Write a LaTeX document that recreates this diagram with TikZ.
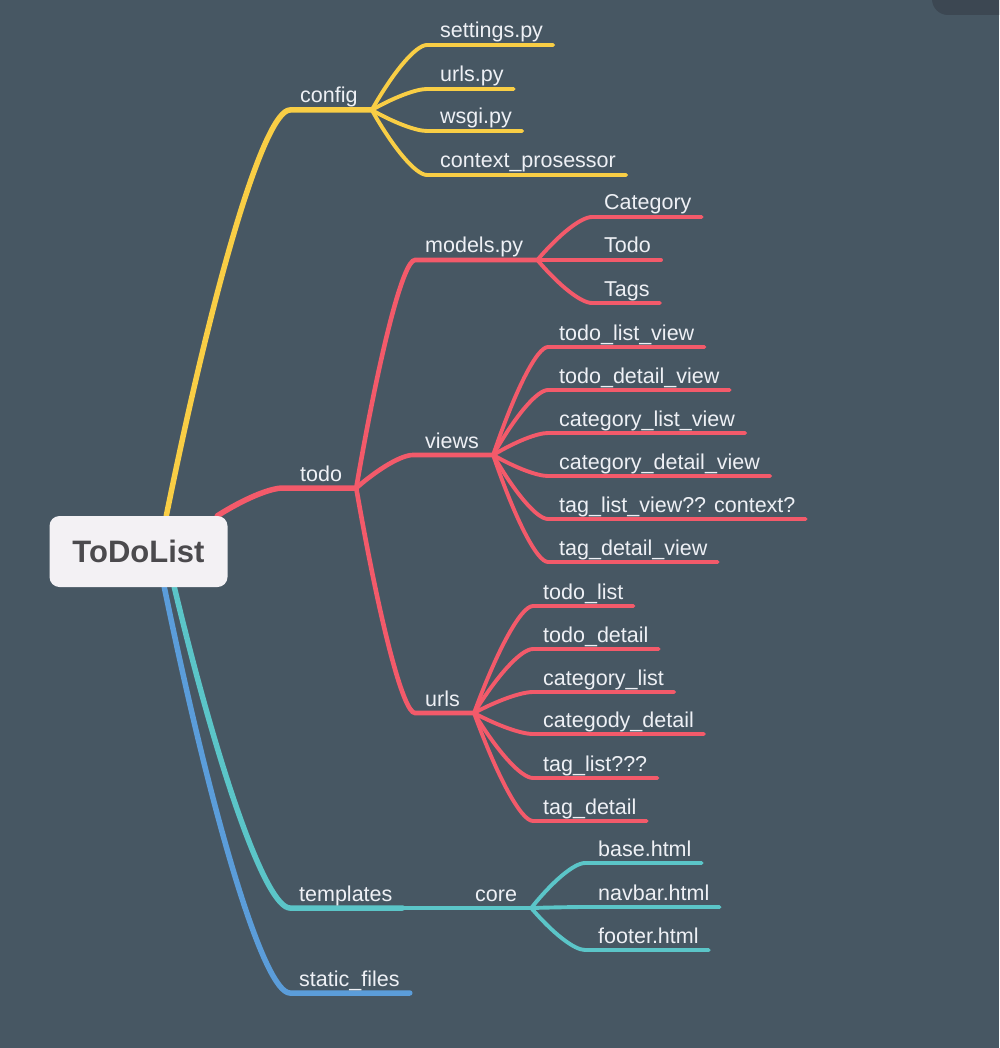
\documentclass[tikz,border=0pt]{standalone}
\usepackage{fontspec}
\setmainfont{Liberation Sans}
\usetikzlibrary{calc}
\definecolor{bgc}{HTML}{475763}
\definecolor{uidark}{HTML}{3C4752}
\definecolor{cyel}{HTML}{F9CE45}
\definecolor{cred}{HTML}{F35A6A}
\definecolor{cteal}{HTML}{5BC5C8}
\definecolor{cblue}{HTML}{5B9DDA}
\definecolor{ltxt}{HTML}{EEF0F5}
\definecolor{rootfill}{HTML}{F3F1F4}
\definecolor{roottxt}{HTML}{4B4A4D}
\pgfdeclarelayer{bglayer}
\pgfdeclarelayer{lines}
\pgfsetlayers{bglayer,lines,main}
% #1 style, #2 parent coordinate, #3 name, #4 x where line turns horizontal,
% #5 line y, #6 text left x, #7 label, #8 gap after text
\newcommand\mmbranch[8]{%
  \node[lbl] (#3) at (#6,#5-7) {#7};
  \coordinate (#3-h) at (#4,#5);
  \coordinate (#3-j) at ($(#3.base east)+(#8,7)$);
  \begin{pgfonlayer}{lines}
  \draw[#1] let \p1=(#2), \p2=(#3-h) in
    (#2) .. controls ({\x1+0.4*(\x2-\x1)},{\y1+0.6*(\y2-\y1)})
    and ({\x2-0.2*(\x2-\x1)},\y2) .. (#3-h) -- (#3-j);
  \end{pgfonlayer}}
\begin{document}
\begin{tikzpicture}[x=1pt,y=-1pt,
  lbl/.style={inner sep=0pt,anchor=base west,text=ltxt,font=\fontsize{21.5}{26}\selectfont},
  rootbox/.style={fill=rootfill,rounded corners=10pt,minimum width=178pt,minimum height=71pt,
    inner sep=0pt,text=roottxt,font=\fontsize{31}{36}\selectfont\bfseries},
  Ly/.style={cyel,line width=5.5pt,line cap=round},
  Lyl/.style={cyel,line width=3.9pt,line cap=round},
  Lr/.style={cred,line width=5.5pt,line cap=round},
  Lrm/.style={cred,line width=4.6pt,line cap=round},
  Lrl/.style={cred,line width=3.9pt,line cap=round},
  Lt/.style={cteal,line width=5.5pt,line cap=round},
  Ltm/.style={cteal,line width=4.6pt,line cap=round},
  Ltl/.style={cteal,line width=3.9pt,line cap=round},
  Lb/.style={cblue,line width=5.5pt,line cap=round}]
\useasboundingbox (0,0) rectangle (999,1048);
\begin{pgfonlayer}{bglayer}
  \fill[bgc] (0,0) rectangle (999,1048);
  \begin{scope}
    \clip (0,0) rectangle (999,1048);
    \fill[uidark,rounded corners=16pt] (932,-40) rectangle (1040,15);
  \end{scope}
\end{pgfonlayer}

\node[rootbox] (root) at (138.5,551.5) {ToDoList};
\coordinate (ry) at ($(root.north west)+(117,0)$);
\coordinate (rr) at ($(root.north west)+(168,0)$);
\coordinate (rt) at ($(root.south west)+(125,0)$);
\coordinate (rb) at ($(root.south west)+(115,0)$);

% config
\mmbranch{Ly}{ry}{config}{290}{110}{300}{config}{14}
\mmbranch{Lyl}{config-j}{settings}{427}{45}{440}{settings.py}{10}
\mmbranch{Lyl}{config-j}{curls}{427}{89}{440}{urls.py}{10}
\mmbranch{Lyl}{config-j}{wsgi}{427}{131}{440}{wsgi.py}{10}
\mmbranch{Lyl}{config-j}{ctx}{427}{175}{440}{context\_prosessor}{10}

% todo
\mmbranch{Lr}{rr}{todo}{283}{488}{300}{todo}{14}
\mmbranch{Lrm}{todo-j}{models}{415}{260}{425}{models.py}{14}
\mmbranch{Lrl}{models-j}{mcat}{592}{217}{604}{Category}{10}
\mmbranch{Lrl}{models-j}{mtodo}{592}{260}{604}{Todo}{10}
\mmbranch{Lrl}{models-j}{mtags}{592}{303}{604}{Tags}{10}

\mmbranch{Lrm}{todo-j}{views}{413}{455}{425}{views}{14}
\mmbranch{Lrl}{views-j}{v1}{548}{347}{559}{todo\_list\_view}{10}
\mmbranch{Lrl}{views-j}{v2}{548}{390}{559}{todo\_detail\_view}{10}
\mmbranch{Lrl}{views-j}{v3}{548}{433}{559}{category\_list\_view}{10}
\mmbranch{Lrl}{views-j}{v4}{548}{476}{559}{category\_detail\_view}{10}
\mmbranch{Lrl}{views-j}{v5}{548}{519}{559}{tag\_list\_view?? context?}{10}
\mmbranch{Lrl}{views-j}{v6}{548}{562}{559}{tag\_detail\_view}{10}

\mmbranch{Lrm}{todo-j}{turls}{415}{713}{425}{urls}{14}
\mmbranch{Lrl}{turls-j}{u1}{533}{606}{543}{todo\_list}{10}
\mmbranch{Lrl}{turls-j}{u2}{533}{649}{543}{todo\_detail}{10}
\mmbranch{Lrl}{turls-j}{u3}{533}{692}{543}{category\_list}{10}
\mmbranch{Lrl}{turls-j}{u4}{533}{734}{543}{categody\_detail}{10}
\mmbranch{Lrl}{turls-j}{u5}{533}{778}{543}{tag\_list???}{10}
\mmbranch{Lrl}{turls-j}{u6}{533}{821}{543}{tag\_detail}{10}

% templates
\mmbranch{Lt}{rt}{templates}{290}{908}{299}{templates}{10}
\node[lbl] (core) at (475,901) {core};
\coordinate (core-j) at ($(core.base east)+(14,7)$);
\begin{pgfonlayer}{lines}
  \draw[Ltm] (templates-j) -- (core-j);
\end{pgfonlayer}
\mmbranch{Ltl}{core-j}{base}{585}{863}{598}{base.html}{10}
\mmbranch{Ltl}{core-j}{navbar}{585}{907}{598}{navbar.html}{10}
\mmbranch{Ltl}{core-j}{footer}{585}{950}{598}{footer.html}{10}

% static files
\mmbranch{Lb}{rb}{static}{290}{993}{299}{static\_files}{10}
\end{tikzpicture}
\end{document}
